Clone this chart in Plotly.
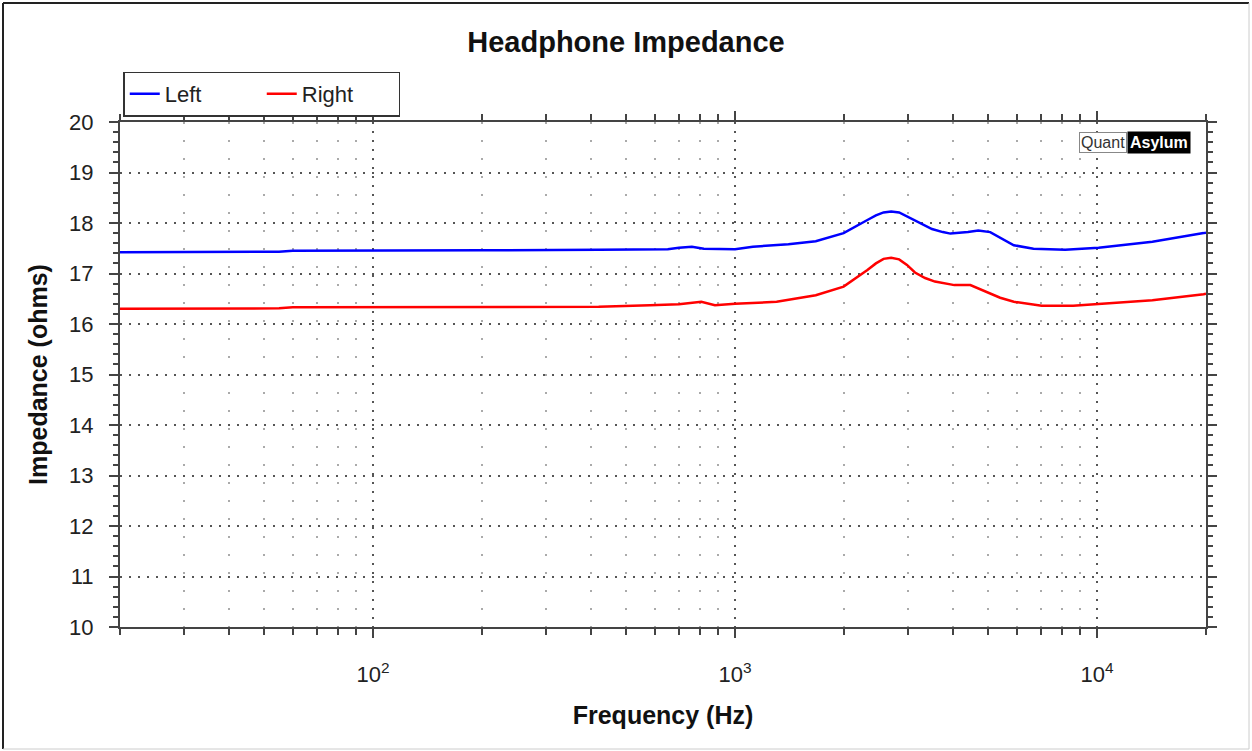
import plotly.graph_objects as go

# Left channel (Hz, ohms)
left_freq = [20, 30, 45, 55, 60, 100, 200, 420, 652, 700, 760, 820, 1000, 1120, 1404, 1671, 1995, 2321, 2450,
             2572, 2700, 2840, 2950, 3062, 3250, 3500, 3750, 3935, 4400, 4699, 5069, 5500, 5890, 6676, 8166,
             10100, 14220, 19700, 20000]
left_imp = [17.42, 17.42, 17.42, 17.43, 17.45, 17.45, 17.46, 17.47, 17.48, 17.51, 17.53, 17.49, 17.48, 17.53, 17.58,
            17.64, 17.80, 18.06, 18.15, 18.21, 18.23, 18.21, 18.15, 18.09, 18.00, 17.88, 17.82, 17.79, 17.82, 17.85,
            17.82, 17.68, 17.56, 17.49, 17.47, 17.51, 17.63, 17.80, 17.81]

# Right channel (Hz, ohms)
right_freq = [20, 30, 45, 55, 60, 100, 200, 420, 582, 700, 807, 880, 1000, 1303, 1671, 1995, 2321, 2450, 2572,
              2700, 2840, 2985, 3141, 3350, 3566, 4036, 4467, 4940, 5400, 5890, 7030, 8590, 10100, 14220, 19700,
              20000]
right_imp = [16.30, 16.30, 16.30, 16.31, 16.33, 16.33, 16.33, 16.34, 16.37, 16.39, 16.44, 16.37, 16.40, 16.44, 16.57,
             16.74, 17.07, 17.20, 17.29, 17.31, 17.28, 17.17, 17.02, 16.91, 16.84, 16.77, 16.77, 16.64, 16.52, 16.44,
             16.36, 16.36, 16.40, 16.47, 16.59, 16.60]

x_major = [100, 1000, 10000]
x_major_text = ["10<sup>2</sup>", "10<sup>3</sup>", "10<sup>4</sup>"]
x_minor = [20, 30, 40, 50, 60, 70, 80, 90, 200, 300, 400, 500, 600, 700, 800, 900,
           2000, 3000, 4000, 5000, 6000, 7000, 8000, 9000, 20000]
y_major = list(range(10, 21))

FONT = "Liberation Sans, Arial, sans-serif"
AX = "#444444"
W, H = 1252, 751
L, R, T, B = 120, 46, 122, 124

fig = go.Figure()
fig.add_trace(go.Scatter(x=left_freq, y=left_imp, mode="lines", name="Left",
                         line=dict(color="#0000ff", width=2.5)))
fig.add_trace(go.Scatter(x=right_freq, y=right_imp, mode="lines", name="Right",
                         line=dict(color="#ff0000", width=2.5)))

fig.update_layout(
    width=W, height=H,
    margin=dict(l=L, r=R, t=T, b=B),
    paper_bgcolor="white", plot_bgcolor="white",
    font=dict(family=FONT, color="#222222", size=22),
    title=dict(text="<b>Headphone Impedance</b>", x=0.5, xanchor="center",
               y=1 - 42 / H, yanchor="middle", font=dict(size=29, color="#111111")),
    showlegend=True,
    legend=dict(orientation="h", x=0.003, xanchor="left", y=(627 - 94) / 505, yanchor="middle",
                bordercolor="#333333", borderwidth=1.5, bgcolor="white",
                entrywidth=92, entrywidthmode="pixels",
                font=dict(size=22, color="#222222"), tracegroupgap=0),
    xaxis=dict(
        type="log", range=[1.30103, 4.30103],
        tickmode="array", tickvals=x_major, ticktext=x_major_text,
        ticks="outside", ticklen=9, tickwidth=2, tickcolor=AX,
        showline=True, linecolor=AX, linewidth=2, mirror="ticks",
        showgrid=True, gridcolor="#555555", griddash="2px,7px", gridwidth=1.5,
        zeroline=False,
        tickfont=dict(size=22, color="#222222"),
        ticklabelstandoff=18,
        title=dict(text="<b>Frequency (Hz)</b>", font=dict(size=25, color="#111111"), standoff=20),
        minor=dict(tickmode="array", tickvals=x_minor, ticks="outside", ticklen=6, tickwidth=1.5,
                   tickcolor=AX, showgrid=True, gridcolor="#aaaaaa", griddash="2px,16px", gridwidth=1.5),
    ),
    yaxis=dict(
        range=[10, 20], tickmode="array", tickvals=y_major,
        ticks="outside", ticklen=9, tickwidth=2, tickcolor=AX,
        showline=True, linecolor=AX, linewidth=2, mirror="ticks",
        showgrid=True, gridcolor="#555555", griddash="2px,7px", gridwidth=1.5,
        zeroline=False,
        tickfont=dict(size=22, color="#222222"),
        ticklabelstandoff=11,
        title=dict(text="<b>Impedance (ohms)</b>", font=dict(size=25, color="#111111"), standoff=14),
        minor=dict(dtick=0.2, ticks="outside", ticklen=5, tickwidth=1.5, tickcolor=AX, showgrid=False),
    ),
)

# QuantAsylum badge
split = (1127 - L) / (W - L - R)
fig.add_annotation(xref="paper", yref="paper", x=split, y=(627 - 142) / 505, xanchor="right", yanchor="middle",
                   text="Quant", showarrow=False, font=dict(size=16, color="#333333"),
                   bgcolor="white", bordercolor="#888888", borderwidth=1, borderpad=1)
fig.add_annotation(xref="paper", yref="paper", x=split, y=(627 - 142) / 505, xanchor="left", yanchor="middle",
                   text="<b>Asylum</b>", showarrow=False, font=dict(size=16, color="white"),
                   bgcolor="black", borderpad=2)

# Outer frame of the picture
pw, ph = W - L - R, H - T - B
fx0, fx1 = (3 - L) / pw, (1249 - L) / pw
fy0, fy1 = (627 - 749) / ph, (627 - 3) / ph
fig.add_shape(type="line", xref="paper", yref="paper", x0=fx0, x1=fx1, y0=fy1, y1=fy1,
              line=dict(color="#222222", width=2))
fig.add_shape(type="line", xref="paper", yref="paper", x0=fx0, x1=fx0, y0=fy0, y1=fy1,
              line=dict(color="#222222", width=2))
fig.add_shape(type="line", xref="paper", yref="paper", x0=fx1, x1=fx1, y0=fy0, y1=fy1,
              line=dict(color="#cccccc", width=1))
fig.add_shape(type="line", xref="paper", yref="paper", x0=fx0, x1=fx1, y0=fy0, y1=fy0,
              line=dict(color="#cccccc", width=1))

fig.write_html("out.html", config={"displayModeBar": False},
               post_script="document.body.style.margin='0';document.body.style.overflow='hidden';")
